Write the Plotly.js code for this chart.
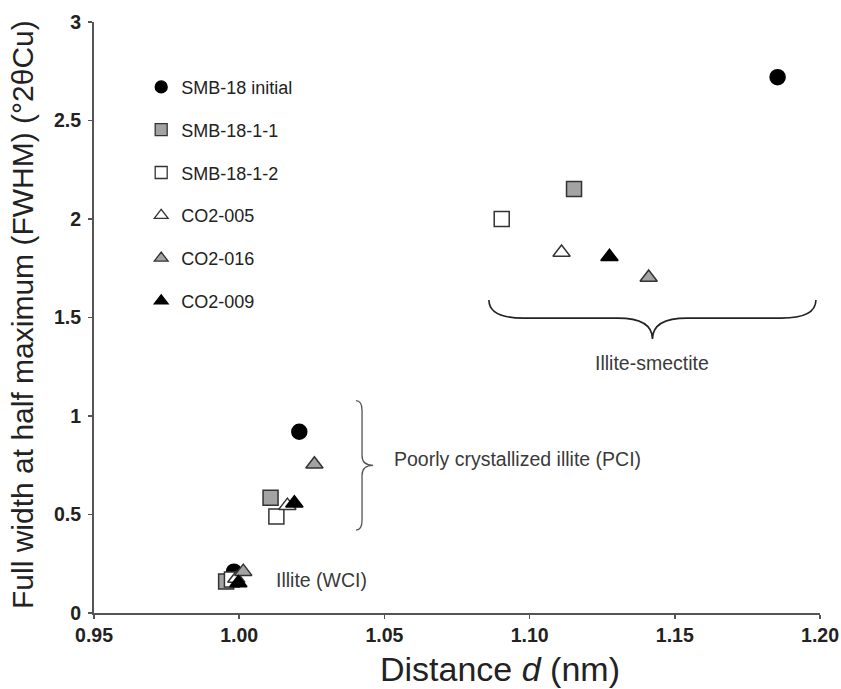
<!DOCTYPE html>
<html><head><meta charset="utf-8">
<script src="https://cdn.plot.ly/plotly-3.0.1.min.js"></script>
<style>html,body{margin:0;padding:0;background:#fff}#chart{width:841px;height:689px}</style>
</head><body><div id="chart"></div>
<script>
// Sample series: [WCI, PCI, Illite-smectite]
const seriesNames = ["SMB-18 initial", "SMB-18-1-1", "SMB-18-1-2", "CO2-005", "CO2-016", "CO2-009"];
const smb18_x   = [0.9982, 1.0207, 1.1854];
const smb18_y   = [0.21, 0.92, 2.72];
const smb1811_x = [0.9955, 1.0108, 1.1153];
const smb1811_y = [0.16, 0.585, 2.152];
const smb1812_x = [0.9975, 1.0128, 1.0904];
const smb1812_y = [0.17, 0.49, 2.00];
const co2005_x  = [0.9990, 1.0166, 1.1110];
const co2005_y  = [0.175, 0.545, 1.830];
const co2016_x  = [1.0014, 1.0259, 1.1410];
const co2016_y  = [0.21, 0.755, 1.703];
const co2009_x  = [0.9997, 1.0190, 1.1275];
const co2009_y  = [0.152, 0.557, 1.808];

const xTicks = [0.95, 1.00, 1.05, 1.10, 1.15, 1.20];
const xTickText = ["0.95", "1.00", "1.05", "1.10", "1.15", "1.20"];
const yTicks = [0, 0.5, 1, 1.5, 2, 2.5, 3];
const yTickText = ["0", "0.5", "1", "1.5", "2", "2.5", "3"];

const EDGE = '#333333', GRAY = '#a3a3a3';
const styles = [
  {symbol:'circle', color:'#000000', line:'#000000'},
  {symbol:'square', color:GRAY, line:EDGE},
  {symbol:'square', color:'#ffffff', line:EDGE},
  {symbol:'triangle-up', color:'#ffffff', line:EDGE},
  {symbol:'triangle-up', color:GRAY, line:EDGE},
  {symbol:'triangle-up', color:'#000000', line:'#000000'}
];
const xs = [smb18_x, smb1811_x, smb1812_x, co2005_x, co2016_x, co2009_x];
const ys = [smb18_y, smb1811_y, smb1812_y, co2005_y, co2016_y, co2009_y];

const data = seriesNames.map((n,i)=>({
  type:'scatter', mode:'markers', name:n, legendgroup:'g'+i, showlegend:false,
  x: xs[i], y: ys[i],
  marker:{symbol:styles[i].symbol, size:15, color:styles[i].color, line:{color:styles[i].line, width:1.5}}
}));
// legend entries (smaller symbols, as in the reference key)
seriesNames.forEach((n,i)=>data.push({
  type:'scatter', mode:'markers', name:n, legendgroup:'g'+i, showlegend:true,
  x:[null], y:[null],
  marker:{symbol:styles[i].symbol, size:12, color:styles[i].color, line:{color:styles[i].line, width:1.3}}
}));

function hBrace(x0,x1,yTop,yMid,yTip,dx){
  const xc=(x0+x1)/2;
  return `M${x0},${yTop} Q${x0},${yMid} ${x0+dx},${yMid} L${xc-dx},${yMid} Q${xc},${yMid} ${xc},${yTip} Q${xc},${yMid} ${xc+dx},${yMid} L${x1-dx},${yMid} Q${x1},${yMid} ${x1},${yTop}`;
}
function vBrace(y0,y1,xL,xMid,xTip,dy){
  const yc=(y0+y1)/2;
  return `M${xL},${y0} Q${xMid},${y0} ${xMid},${y0-dy} L${xMid},${yc+dy} Q${xMid},${yc} ${xTip},${yc} Q${xMid},${yc} ${xMid},${yc-dy} L${xMid},${y1+dy} Q${xMid},${y1} ${xL},${y1}`;
}

const FAM = 'Liberation Sans, Arial, sans-serif';
const annFont = {family:FAM, size:19.5, color:'#3a3a3a'};
const tickFont = {family:FAM, size:19.5, weight:700, color:'#222'};
const layout = {
  width:841, height:689,
  margin:{l:94, r:21, t:22, b:76},
  paper_bgcolor:'#fff', plot_bgcolor:'#fff',
  font:{family:FAM, color:'#222'},
  xaxis:{range:[0.95,1.20], tickmode:'array', tickvals:xTicks, ticktext:xTickText.map(t=>'<b>'+t+'</b>'),
    showgrid:false, zeroline:false,
    showline:true, linecolor:'#555', linewidth:2, ticks:'outside', ticklen:4, tickcolor:'#555', tickwidth:1.5,
    tickfont:tickFont},
  yaxis:{range:[0,3], tickmode:'array', tickvals:yTicks, ticktext:yTickText.map(t=>'<b>'+t+'</b>'),
    showgrid:false, zeroline:false,
    showline:true, linecolor:'#555', linewidth:2, ticks:'outside', ticklen:4, tickcolor:'#555', tickwidth:1.5,
    tickfont:tickFont, ticklabelstandoff:3},
  showlegend:true,
  legend:{x:0.065, xanchor:'left', y:0.921, yanchor:'top', bgcolor:'rgba(0,0,0,0)',
    font:{size:18, color:'#222'}, tracegroupgap:16.4, itemwidth:30},
  shapes:[
    {type:'path', xref:'x', yref:'y', path:hBrace(1.086,1.1986,1.589,1.497,1.391,0.012), line:{color:'#222', width:1.6}},
    {type:'path', xref:'x', yref:'y', path:vBrace(1.078,0.421,1.0402,1.0423,1.0461,0.05), line:{color:'#555', width:1.3}}
  ],
  annotations:[
    {x:1.012, y:0.168, xref:'x', yref:'y', text:'Illite (WCI)', showarrow:false, xanchor:'left', font:annFont},
    {x:1.0526, y:0.782, xref:'x', yref:'y', text:'Poorly crystallized illite (PCI)', showarrow:false, xanchor:'left', font:annFont},
    {x:1.1421, y:1.269, xref:'x', yref:'y', text:'Illite-smectite', showarrow:false, xanchor:'center', font:annFont},
    // axis titles
    {x:(500-94)/726, y:-(669-613)/591, xref:'paper', yref:'paper', xanchor:'center', yanchor:'middle',
      text:'Distance <i>d</i> (nm)', showarrow:false, font:{family:FAM, size:34, color:'#222'}},
    {x:(22-94)/726, y:(613-315)/591, xref:'paper', yref:'paper', xanchor:'center', yanchor:'middle', textangle:-90,
      text:'Full width at half maximum (FWHM) (°2θCu)', showarrow:false, font:{family:FAM, size:30, color:'#222'}}
  ]
};
Plotly.newPlot('chart', data, layout, {displayModeBar:false, staticPlot:true});
</script></body></html>
